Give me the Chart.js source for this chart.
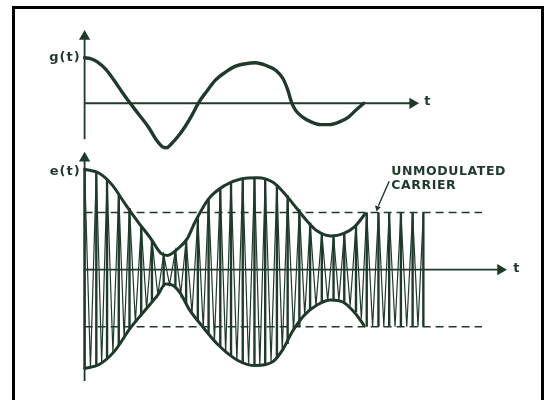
<!DOCTYPE html>
<html>
<head>
<meta charset="utf-8">
<script src="https://cdn.jsdelivr.net/npm/chart.js@4.4.1/dist/chart.umd.min.js"></script>
<style>
  html, body { margin: 0; padding: 0; background: #fff; }
  #wrap { position: relative; width: 547px; height: 400px; overflow: hidden; }
  #frame { position: absolute; left: 12px; top: 6px; width: 526px; height: 420px; border: 3px solid #000; border-bottom: none; }
  #c { position: absolute; left: 0; top: 0; }
</style>
</head>
<body>
<div id="wrap">
  <div id="frame"></div>
  <canvas id="c" width="547" height="400"></canvas>
</div>
<script>
// modulating signal g(t): time, value (g(0) = 1)
const gT = [0, 0.6, 1.3, 2.2, 3.0, 3.8, 4.6, 5.5, 6.5, 7.3, 8.0, 8.4, 8.9, 9.6, 10.3, 11.0, 11.7, 12.5, 13.4, 14.4, 15.4, 16.5, 17.5, 18.6, 19.6, 20.3, 20.8, 21.2, 21.6, 22.3, 23.2, 24.2, 25.1, 26.0, 27.0, 27.8, 28.6];
const gV = [1.00, 0.98, 0.91, 0.74, 0.51, 0.26, 0.02, -0.23, -0.51, -0.79, -0.96, -0.98, -0.89, -0.72, -0.51, -0.26, 0.02, 0.26, 0.51, 0.68, 0.81, 0.87, 0.89, 0.83, 0.72, 0.55, 0.30, 0.02, -0.15, -0.30, -0.41, -0.47, -0.47, -0.42, -0.31, -0.15, 0.0];

// envelope of e(t) (unmodulated carrier amplitude = 1)
const envUpT = [0, 1.5, 2.8, 4.2, 5.5, 6.8, 7.8, 8.5, 9.5, 10.5, 11.3, 12.7, 14.3, 16.0, 17.7, 19.3, 20.5, 21.7, 22.7, 23.8, 25.2, 26.5, 27.7, 28.7];
const envUp = [1.76, 1.69, 1.49, 1.14, 0.83, 0.54, 0.29, 0.25, 0.36, 0.54, 0.83, 1.24, 1.47, 1.59, 1.61, 1.53, 1.33, 1.08, 0.87, 0.68, 0.59, 0.63, 0.76, 0.97];
const envLoT = [0, 1.5, 3.0, 4.7, 6.3, 7.5, 8.3, 9.0, 9.8, 10.7, 12.0, 13.7, 15.7, 17.5, 19.3, 20.3, 21.3, 22.5, 23.8, 25.2, 26.5, 27.7, 28.6];
const envLo = [-1.73, -1.66, -1.44, -1.02, -0.69, -0.44, -0.25, -0.27, -0.41, -0.69, -0.98, -1.32, -1.59, -1.68, -1.61, -1.40, -1.08, -0.80, -0.62, -0.53, -0.57, -0.76, -0.97];

// carrier: peak times with top / bottom extent, trough times with value
const peakT = [0, 1.2, 2.3, 3.5, 4.6, 5.8, 6.9, 8.1, 9.3, 10.4, 11.6, 12.7, 13.9, 15.0, 16.2, 17.4, 18.5, 19.7, 20.8, 22.0, 23.1, 24.3, 25.5, 26.6, 27.8, 28.9, 30.1, 31.2, 32.4, 33.6, 34.7];
const peakHi = [1.76, 1.71, 1.58, 1.32, 1.08, 0.77, 0.52, 0.27, 0.33, 0.52, 0.90, 1.24, 1.42, 1.53, 1.59, 1.61, 1.58, 1.49, 1.30, 1.06, 0.82, 0.65, 0.59, 0.63, 0.77, 1.0, 1.0, 1.0, 1.0, 1.0, 1.0];
const peakLo = [-1.73, -1.69, -1.56, -1.32, -1.04, -0.80, -0.56, -0.30, -0.30, -0.60, -0.91, -1.13, -1.35, -1.52, -1.62, -1.68, -1.65, -1.56, -1.30, -1.0, -0.72, -0.58, -0.53, -0.56, -0.74, -1.0, -1.0, -1.0, -1.0, -1.0, -1.0];
const troughT = [0.6, 1.75, 2.9, 4.05, 5.2, 6.35, 7.5, 8.7, 9.85, 11.0, 12.15, 13.3, 14.45, 15.6, 16.8, 17.95, 19.1, 20.25, 21.4, 22.55, 23.7, 24.9, 26.05, 27.2, 28.35, 29.5, 30.65, 31.8, 33.0, 34.15];
const troughV = [-1.72, -1.64, -1.45, -1.19, -0.92, -0.69, -0.44, -0.26, -0.42, -0.76, -1.02, -1.25, -1.44, -1.58, -1.66, -1.68, -1.61, -1.42, -1.08, -0.80, -0.63, -0.55, -0.54, -0.63, -0.86, -1.0, -1.0, -1.0, -1.0, -1.0];

const carrierLevel = 1.0;
const dashEnd = 40.7;

const ink = "#1f3a2b";
const pts = (xs, ys) => xs.map((x, i) => ({ x: x, y: ys[i] }));

const verticals = [];
peakT.forEach((t, i) => {
  verticals.push({ x: t, y: peakHi[i] }, { x: t, y: peakLo[i] }, { x: t, y: null });
});
const zigzag = [];
peakT.forEach((t, i) => {
  zigzag.push({ x: t, y: peakHi[i] });
  if (i < troughT.length) zigzag.push({ x: troughT[i], y: troughV[i] });
});

const line = (data, yAxis, width, extra) => Object.assign({
  data: data, yAxisID: yAxis, borderColor: ink, borderWidth: width,
  pointRadius: 0, fill: false, tension: 0
}, extra || {});
const smooth = { cubicInterpolationMode: "monotone", borderCapStyle: "round", borderJoinStyle: "round" };
const arrow = (x, y, yAxis, rot, r) => ({
  data: [{ x: x, y: y }], yAxisID: yAxis, showLine: false,
  pointStyle: "triangle", pointRadius: r || 6.5, pointRotation: rot,
  backgroundColor: ink, borderColor: ink, borderWidth: 0
});

const labels = {
  id: "labels",
  afterDatasetsDraw(chart) {
    const c = chart.ctx, x = chart.scales.x, yt = chart.scales.yTop, yb = chart.scales.yBot;
    c.save();
    c.fillStyle = ink;
    c.textBaseline = "middle";
    c.font = "bold 13px 'DejaVu Sans'";
    c.letterSpacing = "1px";
    c.textAlign = "right";
    c.fillText("g(t)", x.getPixelForValue(-0.4), yt.getPixelForValue(1.0));
    c.fillText("e(t)", x.getPixelForValue(-0.4), yb.getPixelForValue(1.72));
    c.textAlign = "left";
    c.fillText("t", x.getPixelForValue(34.8), yt.getPixelForValue(0.04));
    c.fillText("t", x.getPixelForValue(43.9), yb.getPixelForValue(0.02));
    c.font = "bold 12.5px 'DejaVu Sans'";
    c.letterSpacing = "0.6px";
    c.fillText("UNMODULATED", x.getPixelForValue(31.4), yb.getPixelForValue(1.72));
    c.fillText("CARRIER", x.getPixelForValue(31.4), yb.getPixelForValue(1.47));
    c.restore();
  }
};

new Chart("c", {
  type: "line",
  data: {
    datasets: [
      // top panel
      line([{ x: 0, y: -0.79 }, { x: 0, y: 1.5 }], "yTop", 1.8),
      arrow(0, 1.47, "yTop", 0),
      line([{ x: 0, y: 0 }, { x: 33.4, y: 0 }], "yTop", 1.8),
      arrow(33.6, 0, "yTop", 90),
      line(pts(gT, gV), "yTop", 3.4, smooth),
      // bottom panel
      line([{ x: 0, y: -1.95 }, { x: 0, y: 1.98 }], "yBot", 1.8),
      arrow(0, 1.95, "yBot", 0),
      line([{ x: 0, y: 0 }, { x: 42.4, y: 0 }], "yBot", 1.8),
      arrow(42.6, 0, "yBot", 90),
      line([{ x: 0, y: carrierLevel }, { x: dashEnd, y: carrierLevel }], "yBot", 1.5, { borderDash: [8, 5] }),
      line([{ x: 0, y: -carrierLevel }, { x: dashEnd, y: -carrierLevel }], "yBot", 1.5, { borderDash: [8, 5] }),
      line(verticals, "yBot", 2.4, { spanGaps: false }),
      line(zigzag, "yBot", 1.2),
      line(pts(envUpT, envUp), "yBot", 3, smooth),
      line(pts(envLoT, envLo), "yBot", 3, smooth),
      line([{ x: 31.2, y: 1.55 }, { x: 30.1, y: 1.12 }], "yBot", 1.4),
      arrow(30.0, 1.08, "yBot", 194, 3.5)
    ]
  },
  options: {
    responsive: false,
    animation: false,
    events: [],
    layout: { padding: 0 },
    plugins: { legend: { display: false }, tooltip: { enabled: false } },
    scales: {
      x: { type: "linear", min: -8, max: 46.7, display: false },
      yTop: { type: "linear", min: -6.383, max: 2.128, display: false },
      yBot: { type: "linear", min: -2.169, max: 4.610, display: false }
    }
  },
  plugins: [labels]
});
</script>
</body>
</html>
